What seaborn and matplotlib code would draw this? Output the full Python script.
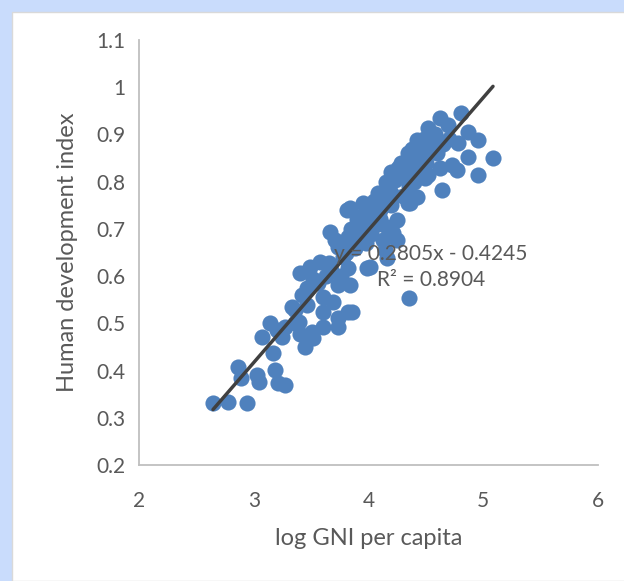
import seaborn as sns
import matplotlib.pyplot as plt
from matplotlib.patches import Rectangle
import pandas as pd
import numpy as np

# log GNI per capita (x) and HDI (y)
log_gni = [2.645, 2.776, 2.941, 2.863, 2.889, 3.03, 3.05, 3.185, 3.21, 3.27,
           3.07, 3.14, 3.17, 3.25, 3.20, 3.36, 3.45, 3.36, 3.52, 3.40,
           3.333, 3.42, 3.40, 3.49, 3.58, 3.66, 3.73, 3.84, 3.82, 3.99,
           3.71, 3.82, 3.60, 3.73, 3.82, 3.73, 3.60, 3.51, 3.39, 3.27,
           3.46, 3.60, 3.69, 3.46, 3.52, 3.56, 3.63, 3.67, 3.76,
           3.665, 3.77, 3.73, 3.81, 3.84, 3.95, 4.04, 4.12, 4.20, 4.23,
           4.32, 4.42, 4.49, 4.36, 4.25, 4.16, 4.25, 4.13, 4.01, 4.16,
           4.21, 4.14, 4.35, 3.86,
           4.62, 4.81, 4.52, 4.69, 4.87, 4.95, 4.78, 5.085, 4.87, 4.73,
           4.62, 4.52, 4.77, 4.95, 4.64, 4.38, 4.42, 4.30, 4.23, 4.16,
           4.42, 4.34, 4.08, 4.05,
           4.05, 4.10, 4.15, 4.18, 4.27, 4.35, 4.40, 4.45, 4.50, 4.55,
           4.48, 4.58, 4.34, 4.26, 4.20,
           4.00, 4.10, 4.20, 4.30, 4.35, 4.40, 4.45, 4.50, 4.60, 4.65, 4.70,
           3.85, 3.90, 3.95, 3.90, 3.95, 4.00, 3.88, 3.98, 4.02, 4.08,
           4.10, 3.80, 3.78,
           4.15, 4.22, 4.28, 4.34, 4.38]
hdi = [0.331, 0.333, 0.331, 0.407, 0.384, 0.390, 0.376, 0.401, 0.374, 0.369,
       0.471, 0.501, 0.437, 0.471, 0.486, 0.501, 0.450, 0.528, 0.469, 0.478,
       0.535, 0.560, 0.607, 0.619, 0.630, 0.628, 0.581, 0.581, 0.617, 0.617,
       0.676, 0.683, 0.524, 0.511, 0.524, 0.492, 0.492, 0.482, 0.503, 0.492,
       0.539, 0.556, 0.545, 0.575, 0.594, 0.585, 0.600, 0.612, 0.600,
       0.693, 0.670, 0.662, 0.740, 0.744, 0.755, 0.734, 0.765, 0.776, 0.804,
       0.818, 0.825, 0.808, 0.755, 0.719, 0.704, 0.676, 0.676, 0.619, 0.638,
       0.691, 0.655, 0.554, 0.524,
       0.935, 0.945, 0.914, 0.920, 0.905, 0.888, 0.882, 0.850, 0.852, 0.835,
       0.829, 0.814, 0.825, 0.814, 0.782, 0.867, 0.888, 0.840, 0.810, 0.789,
       0.768, 0.755, 0.776, 0.745,
       0.76, 0.77, 0.78, 0.80, 0.81, 0.83, 0.85, 0.86, 0.87, 0.88,
       0.89, 0.90, 0.85, 0.83, 0.82,
       0.74, 0.74, 0.75, 0.77, 0.79, 0.80, 0.82, 0.84, 0.86, 0.88, 0.89,
       0.70, 0.72, 0.73, 0.68, 0.70, 0.71, 0.66, 0.67, 0.69, 0.71,
       0.72, 0.65, 0.64,
       0.80, 0.82, 0.84, 0.86, 0.87]

slope = 0.2805
intercept = -0.4245
r2 = 0.8904

x_ticks = [2, 3, 4, 5, 6]
y_ticks = [0.2, 0.3, 0.4, 0.5, 0.6, 0.7, 0.8, 0.9, 1.0, 1.1]
y_tick_labels = ['0.2', '0.3', '0.4', '0.5', '0.6', '0.7', '0.8', '0.9', '1', '1.1']

df = pd.DataFrame({'log_gni': log_gni, 'hdi': hdi})

sns.set_style('white')
plt.rcParams['font.family'] = ['Lato', 'DejaVu Sans']
grey = '#595959'

fig = plt.figure(figsize=(6.24, 5.81), dpi=100, facecolor='#c9dcfc')
# white chart area inside the light blue frame
fig.patches.append(Rectangle((12 / 624, 0), 1, 1 - 12 / 581, transform=fig.transFigure,
                             facecolor='white', edgecolor='#d9d9d9', lw=1, zorder=-10))
ax = fig.add_axes([139 / 624, 116 / 581, (598 - 139) / 624, (541 - 116) / 581])
ax.set_facecolor('none')

sns.scatterplot(data=df, x='log_gni', y='hdi', ax=ax, color='#4f81bd',
                s=135, edgecolor='#4f81bd', linewidth=0, zorder=2)

# linear trendline over the data range
xs = np.array([df['log_gni'].min(), df['log_gni'].max()])
ax.plot(xs, slope * xs + intercept, color='#404040', lw=2.5, zorder=3,
        solid_capstyle='round')

ax.text(4.545, 0.619, f'y = {slope}x - {abs(intercept)}\nR² = {r2}', ha='center', va='center',
        fontsize=15, color=grey, linespacing=1.35, zorder=4)

ax.set_xlim(2, 6)
ax.set_ylim(0.2, 1.1)
ax.set_xticks(x_ticks)
ax.set_xticklabels([str(t) for t in x_ticks])
ax.set_yticks(y_ticks)
ax.set_yticklabels(y_tick_labels)
ax.tick_params(axis='both', length=0, labelsize=15, labelcolor=grey)
ax.tick_params(axis='x', pad=19)
ax.tick_params(axis='y', pad=10)

sns.despine(ax=ax)
for side in ['left', 'bottom']:
    ax.spines[side].set_color('#bfbfbf')
    ax.spines[side].set_linewidth(1.3)

ax.set_xlabel('log GNI per capita', fontsize=17, color=grey, labelpad=12)
ax.set_ylabel('Human development index', fontsize=17, color=grey, labelpad=13)

fig.savefig('out.png', dpi=100, facecolor=fig.get_facecolor())
